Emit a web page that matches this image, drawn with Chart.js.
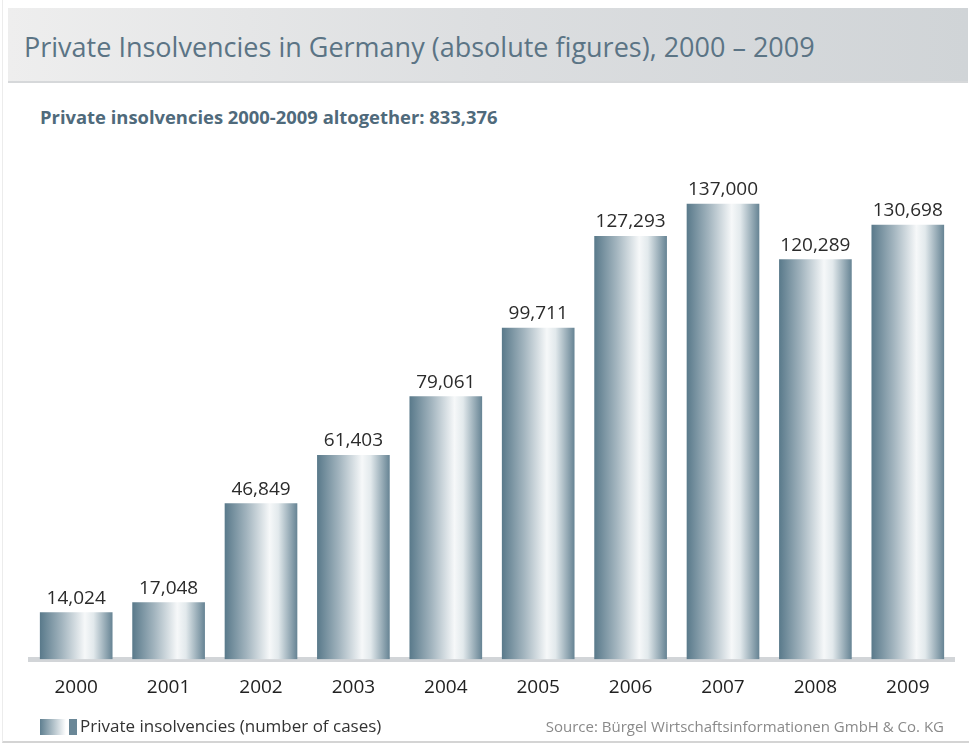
<!DOCTYPE html>
<html lang="en">
<head>
    <meta charset="UTF-8">
    <title>Private Insolvencies</title>
    <script src="https://cdn.jsdelivr.net/npm/chart.js@4.4.0/dist/chart.umd.min.js"></script>
    <style>
        body { margin: 0; background: #fff; font-family: 'Open Sans', sans-serif; }
        #page { position: relative; width: 971px; height: 745px; overflow: hidden; }
        #frame { position: absolute; left: 2px; top: 0; width: 966px; height: 741px;
            border-left: 1px solid #ececec; border-bottom: 2px solid #d4d4d4; }
        #header { position: absolute; left: 8px; top: 8px; width: 960px; height: 73px;
            background: linear-gradient(to right, #eeeeee, #dcdee0 50%, #d0d4d7);
            border-bottom: 2px solid #d6d8da; }
        #title { position: absolute; left: 24px; top: 33px; font-size: 27px; color: #5b7485;
            white-space: nowrap; line-height: 1; }
        #subtitle { position: absolute; left: 40px; top: 108px; font-size: 18.4px; font-weight: bold;
            color: #4f6a7b; white-space: nowrap; line-height: 1; }
        #legend { position: absolute; left: 40px; top: 717px; font-size: 17px; color: #333;
            white-space: nowrap; line-height: 1; }
        #legend .sw { display: inline-block; width: 26px; height: 16px; vertical-align: -3px;
            background: linear-gradient(to right, #5f7f90, #ffffff); }
        #legend .sw2 { display: inline-block; width: 8px; height: 16px; vertical-align: -3px;
            margin-left: 3px; margin-right: 3px; background: #6a8797; }
        #source { position: absolute; right: 27px; top: 719px; font-size: 15px; color: #8a8a8a;
            white-space: nowrap; line-height: 1; }
        #chart-box { position: absolute; left: 0; top: 0; width: 971px; height: 745px; }
    </style>
</head>
<body>
<div id="page">
    <div id="frame"></div>
    <div id="header"></div>
    <div id="title">Private Insolvencies in Germany (absolute figures), 2000 – 2009</div>
    <div id="subtitle">Private insolvencies 2000-2009 altogether: 833,376</div>
    <div id="chart-box"><canvas id="chart" width="971" height="745"></canvas></div>
    <div id="legend"><span class="sw"></span><span class="sw2"></span>Private insolvencies (number of cases)</div>
    <div id="source">Source: Bürgel Wirtschaftsinformationen GmbH &amp; Co. KG</div>
</div>

<script>
    var years = ['2000', '2001', '2002', '2003', '2004', '2005', '2006', '2007', '2008', '2009'];
    var cases = [14024, 17048, 46849, 61403, 79061, 99711, 127293, 137000, 120289, 130698];
    var seriesName = 'Private insolvencies (number of cases)';

    // horizontal metallic gradient for each bar
    function barGradient(context) {
        var chart = context.chart;
        if (!chart.chartArea) return '#7d97a6';
        var x = chart.scales.x.getPixelForValue(context.dataIndex);
        var half = 36;
        var g = chart.ctx.createLinearGradient(x - half, 0, x + half, 0);
        g.addColorStop(0, '#5a7a8b');
        g.addColorStop(0.3, '#a2b4be');
        g.addColorStop(0.62, '#f6f8f9');
        g.addColorStop(0.74, '#e2e9ec');
        g.addColorStop(1, '#688595');
        return g;
    }

    // value labels above bars
    var valueLabels = {
        id: 'valueLabels',
        afterDatasetsDraw: function(chart) {
            var ctx = chart.ctx;
            var meta = chart.getDatasetMeta(0);
            ctx.save();
            ctx.font = '19px "Open Sans"';
            ctx.fillStyle = '#2b2b2b';
            ctx.textAlign = 'center';
            ctx.textBaseline = 'alphabetic';
            meta.data.forEach(function(bar, i) {
                ctx.fillText(cases[i].toLocaleString('en-US'), bar.x, bar.y - 9);
            });
            ctx.restore();
        }
    };

    var ctx = document.getElementById('chart').getContext('2d');
    new Chart(ctx, {
        type: 'bar',
        data: {
            labels: years,
            datasets: [{
                label: seriesName,
                data: cases,
                backgroundColor: barGradient,
                borderWidth: 0,
                barThickness: 72
            }]
        },
        plugins: [valueLabels],
        options: {
            responsive: false,
            animation: false,
            events: [],
            layout: { padding: { left: 30, right: 17, top: 161, bottom: 29 } },
            plugins: {
                legend: { display: false },
                tooltip: { enabled: false }
            },
            scales: {
                x: {
                    grid: { display: false, drawTicks: false },
                    border: { display: true, color: '#d2d5d8', width: 5 },
                    ticks: { color: '#222', padding: 17, font: { family: 'Open Sans', size: 19 } }
                },
                y: {
                    display: false,
                    min: 0,
                    max: 150000
                }
            }
        }
    });
</script>
</body>
</html>
